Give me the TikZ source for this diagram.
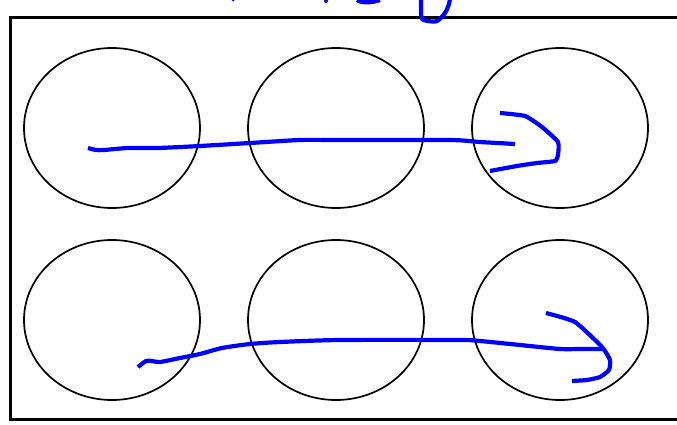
\documentclass[tikz,border=0pt]{standalone}
\usepackage{tikz}

\begin{document}
\begin{tikzpicture}[x=1pt, y=-1pt,
    frame/.style={draw, line width=3pt},
    well/.style={draw, line width=1.7pt},
    ink/.style={draw=blue, line width=4.2pt, line join=round}]

    \useasboundingbox (0,0) rectangle (677,425);
    \clip (0,0) rectangle (677,425);

    % Rahmen
    \draw[frame] (10,18) rectangle (700,419);

    % Kreise
    \foreach \cx in {112,336,560} {
        \foreach \cy in {128,320} {
            \draw[well] (\cx,\cy) ellipse [x radius=88, y radius=80];
        }
    }

    % Striche oben (abgeschnitten)
    \fill[blue] (233,0) circle (1.5);
    \fill[blue] (326,1) circle (2);
    \draw[ink] plot[smooth] coordinates {(357,0) (362,2) (372,2) (380,0)};
    \draw[ink] plot[smooth] coordinates {(421,-2) (421,12) (422,19) (428,21) (437,21) (445,13) (449,4) (450,-2)};

    % erste Reihe
    \draw[ink] plot[smooth, tension=0.4] coordinates {(88,148) (96,150) (104,150) (128,148) (158,148)
        (200,146) (250,143) (300,140) (340,140) (450,140) (480,142) (515,144)};
    \draw[ink] plot[smooth, tension=0.3] coordinates {(500,113) (525,116) (542,127) (558,142)
        (558,155) (555,161) (537,163) (517,166) (490,171)};

    % zweite Reihe
    \draw[ink] plot[smooth, tension=0.4] coordinates {(138,367) (146,361) (152,361) (160,362) (180,358)
        (200,354) (222,348) (250,344) (280,342) (340,340) (460,340) (480,341) (520,345)
        (560,349) (580,349) (604,349)};
    \draw[ink] plot[smooth, tension=0.3] coordinates {(546,313) (575,322) (602,347) (610,360)
        (609,370) (600,377) (587,380) (572,381)};
\end{tikzpicture}
\end{document}
